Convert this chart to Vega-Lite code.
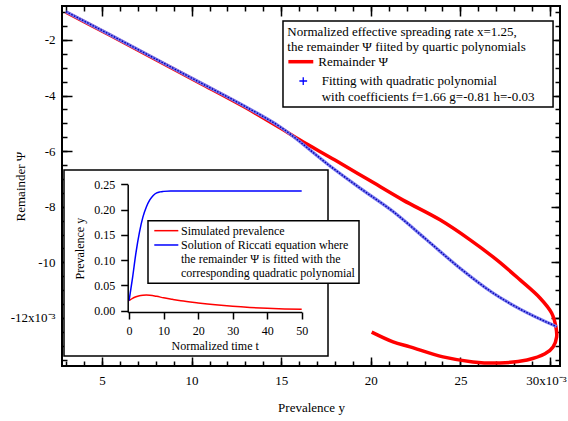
{
  "$schema": "https://vega.github.io/schema/vega-lite/v6.json",
  "width": 498,
  "height": 360,
  "autosize": {"type": "none"},
  "padding": {"left": 62, "top": 6, "right": 8, "bottom": 55},
  "background": "white",
  "config": {
    "font": "Liberation Serif",
    "view": {"stroke": "black", "strokeWidth": 2},
    "axis": {"grid": false, "labelColor": "black", "titleColor": "black", "tickColor": "black", "domainColor": "black", "labelFont": "Liberation Serif", "titleFont": "Liberation Serif", "titleFontWeight": "normal", "labelFlush": false, "labelOverlap": false}
  },
  "datasets": {
    "remainder": [
      {"order": 1, "prevalence": 0.02005, "remainder": -0.01251},
      {"order": 2, "prevalence": 0.02124, "remainder": -0.01286},
      {"order": 3, "prevalence": 0.02219, "remainder": -0.01304},
      {"order": 4, "prevalence": 0.02403, "remainder": -0.01340},
      {"order": 5, "prevalence": 0.02570, "remainder": -0.01358},
      {"order": 6, "prevalence": 0.02721, "remainder": -0.01362},
      {"order": 7, "prevalence": 0.02872, "remainder": -0.01351},
      {"order": 8, "prevalence": 0.02972, "remainder": -0.01329},
      {"order": 9, "prevalence": 0.03017, "remainder": -0.01304},
      {"order": 10, "prevalence": 0.03037, "remainder": -0.01268},
      {"order": 11, "prevalence": 0.03033, "remainder": -0.01232},
      {"order": 12, "prevalence": 0.03009, "remainder": -0.01182},
      {"order": 13, "prevalence": 0.02944, "remainder": -0.01128},
      {"order": 14, "prevalence": 0.02833, "remainder": -0.01063},
      {"order": 15, "prevalence": 0.02703, "remainder": -0.00991},
      {"order": 16, "prevalence": 0.02554, "remainder": -0.00919},
      {"order": 17, "prevalence": 0.02386, "remainder": -0.00847},
      {"order": 18, "prevalence": 0.02180, "remainder": -0.00776},
      {"order": 19, "prevalence": 0.01990, "remainder": -0.00704},
      {"order": 20, "prevalence": 0.01800, "remainder": -0.00632},
      {"order": 21, "prevalence": 0.01605, "remainder": -0.00560},
      {"order": 22, "prevalence": 0.01493, "remainder": -0.00516},
      {"order": 23, "prevalence": 0.01298, "remainder": -0.00442},
      {"order": 24, "prevalence": 0.01047, "remainder": -0.00355},
      {"order": 25, "prevalence": 0.00796, "remainder": -0.00269},
      {"order": 26, "prevalence": 0.00545, "remainder": -0.00183},
      {"order": 27, "prevalence": 0.00299, "remainder": -0.00100}
    ],
    "fit": [
      {"prevalence": 0.00299, "remainder": -0.00098},
      {"prevalence": 0.00545, "remainder": -0.00181},
      {"prevalence": 0.00796, "remainder": -0.00267},
      {"prevalence": 0.01047, "remainder": -0.00353},
      {"prevalence": 0.01298, "remainder": -0.00439},
      {"prevalence": 0.01493, "remainder": -0.00512},
      {"prevalence": 0.01772, "remainder": -0.00653},
      {"prevalence": 0.01940, "remainder": -0.00733},
      {"prevalence": 0.02126, "remainder": -0.00818},
      {"prevalence": 0.02312, "remainder": -0.00919},
      {"prevalence": 0.02498, "remainder": -0.01021},
      {"prevalence": 0.02684, "remainder": -0.01111},
      {"prevalence": 0.02833, "remainder": -0.01168},
      {"prevalence": 0.03037, "remainder": -0.01231}
    ],
    "inset": [
      {"series": "sim", "t": 0, "y": 0.020},
      {"series": "sim", "t": 1, "y": 0.0245},
      {"series": "sim", "t": 2, "y": 0.0275},
      {"series": "sim", "t": 3, "y": 0.0295},
      {"series": "sim", "t": 4, "y": 0.0305},
      {"series": "sim", "t": 5, "y": 0.031},
      {"series": "sim", "t": 6, "y": 0.0307},
      {"series": "sim", "t": 8, "y": 0.0285},
      {"series": "sim", "t": 10, "y": 0.0255},
      {"series": "sim", "t": 12.5, "y": 0.0225},
      {"series": "sim", "t": 15, "y": 0.0197},
      {"series": "sim", "t": 20, "y": 0.0155},
      {"series": "sim", "t": 25, "y": 0.0118},
      {"series": "sim", "t": 30, "y": 0.0088},
      {"series": "sim", "t": 35, "y": 0.0065},
      {"series": "sim", "t": 40, "y": 0.0048},
      {"series": "sim", "t": 45, "y": 0.0036},
      {"series": "sim", "t": 50, "y": 0.0027},
      {"series": "ric", "t": 0, "y": 0.020},
      {"series": "ric", "t": 1, "y": 0.065},
      {"series": "ric", "t": 2, "y": 0.115},
      {"series": "ric", "t": 3, "y": 0.155},
      {"series": "ric", "t": 4, "y": 0.185},
      {"series": "ric", "t": 5, "y": 0.205},
      {"series": "ric", "t": 6, "y": 0.219},
      {"series": "ric", "t": 7, "y": 0.228},
      {"series": "ric", "t": 8, "y": 0.233},
      {"series": "ric", "t": 9, "y": 0.235},
      {"series": "ric", "t": 10, "y": 0.236},
      {"series": "ric", "t": 12, "y": 0.237},
      {"series": "ric", "t": 20, "y": 0.237},
      {"series": "ric", "t": 30, "y": 0.237},
      {"series": "ric", "t": 40, "y": 0.237},
      {"series": "ric", "t": 50, "y": 0.237}
    ]
  },
  "layer": [
    {
      "layer": [
        {
          "data": {"name": "remainder"},
          "mark": {"type": "line", "color": "#ff0000", "strokeWidth": 3.5, "interpolate": "catmull-rom"},
          "encoding": {
            "x": {"field": "prevalence", "type": "quantitative", "scale": {"domain": [0.002768, 0.030558], "nice": false, "zero": false},
              "axis": {"orient": "bottom", "values": [0.005, 0.01, 0.015, 0.02, 0.025, 0.03], "labelExpr": "datum.value > 0.0295 ? '30x10⁻³' : toString(round(datum.value*1000))", "labelOffset": {"condition": {"test": "datum.value > 0.0295", "value": -4}, "value": 0}, "ticks": false, "domain": false, "labelFontSize": 13, "labelPadding": 8, "title": "Prevalence y", "titleFontSize": 13, "titlePadding": 14}},
            "y": {"field": "remainder", "type": "quantitative", "scale": {"domain": [-0.013727, -0.000777], "nice": false, "zero": false},
              "axis": {"orient": "left", "values": [-0.002, -0.004, -0.006, -0.008, -0.01, -0.012], "labelExpr": "datum.value < -0.0115 ? '-12x10⁻³' : toString(round(datum.value*1000))", "ticks": false, "domain": false, "labelFontSize": 13, "labelPadding": 7, "title": "Remainder Ψ", "titleFontSize": 13, "titlePadding": -17}},
            "order": {"field": "order", "type": "quantitative"}
          }
        },
        {
          "data": {"name": "fit"},
          "mark": {"type": "line", "color": "#7a7af0", "strokeWidth": 3.2, "interpolate": "monotone"},
          "encoding": {
            "x": {"field": "prevalence", "type": "quantitative", "scale": {"domain": [0.002768, 0.030558], "nice": false, "zero": false},
              "axis": {"orient": "bottom", "values": [0.005, 0.01, 0.015, 0.02, 0.025, 0.03], "labels": false, "domain": false, "tickSize": 9, "tickWidth": 1.5, "offset": -9, "title": null}},
            "y": {"field": "remainder", "type": "quantitative", "scale": {"domain": [-0.013727, -0.000777], "nice": false, "zero": false},
              "axis": {"orient": "left", "values": [-0.002, -0.004, -0.006, -0.008, -0.01, -0.012], "labels": false, "domain": false, "tickSize": 10, "tickWidth": 1.5, "offset": -10, "title": null}}
          }
        },
        {
          "data": {"name": "fit"},
          "mark": {"type": "line", "color": "#0000b0", "strokeWidth": 1.4, "strokeDash": [1.5, 1.5], "interpolate": "monotone"},
          "encoding": {
            "x": {"field": "prevalence", "type": "quantitative", "scale": {"domain": [0.002768, 0.030558], "nice": false, "zero": false}, "axis": null},
            "y": {"field": "remainder", "type": "quantitative", "scale": {"domain": [-0.013727, -0.000777], "nice": false, "zero": false}, "axis": null}
          }
        },
        {
          "data": {"name": "remainder"},
          "mark": {"type": "point", "opacity": 0},
          "encoding": {
            "x": {"field": "prevalence", "type": "quantitative", "scale": {"domain": [0.002768, 0.030558], "nice": false, "zero": false},
              "axis": {"orient": "bottom", "values": [0.003, 0.004, 0.005, 0.006, 0.007, 0.008, 0.009, 0.01, 0.011, 0.012, 0.013, 0.014, 0.015, 0.016, 0.017, 0.018, 0.019, 0.02, 0.021, 0.022, 0.023, 0.024, 0.025, 0.026, 0.027, 0.028, 0.029, 0.03], "labels": false, "domain": false, "tickSize": 5, "tickWidth": 1.5, "offset": -5, "title": null}},
            "y": {"field": "remainder", "type": "quantitative", "scale": {"domain": [-0.013727, -0.000777], "nice": false, "zero": false},
              "axis": {"orient": "left", "values": [-0.001, -0.0015, -0.002, -0.0025, -0.003, -0.0035, -0.004, -0.0045, -0.005, -0.0055, -0.006, -0.0065, -0.007, -0.0075, -0.008, -0.0085, -0.009, -0.0095, -0.01, -0.0105, -0.011, -0.0115, -0.012, -0.0125, -0.013, -0.0135], "labels": false, "domain": false, "tickSize": 5, "tickWidth": 1.5, "offset": -5, "title": null}}
          }
        },
        {
          "data": {"name": "remainder"},
          "mark": {"type": "point", "opacity": 0},
          "encoding": {
            "x": {"field": "prevalence", "type": "quantitative", "scale": {"domain": [0.002768, 0.030558], "nice": false, "zero": false},
              "axis": {"orient": "top", "values": [0.005, 0.01, 0.015, 0.02, 0.025, 0.03], "labels": false, "domain": false, "tickSize": 10, "tickWidth": 1.5, "offset": -10, "title": null}},
            "y": {"field": "remainder", "type": "quantitative", "scale": {"domain": [-0.013727, -0.000777], "nice": false, "zero": false},
              "axis": {"orient": "right", "values": [-0.002, -0.004, -0.006, -0.008, -0.01, -0.012], "labels": false, "domain": false, "tickSize": 9, "tickWidth": 1.5, "offset": -9, "title": null}}
          }
        },
        {
          "data": {"name": "remainder"},
          "mark": {"type": "point", "opacity": 0},
          "encoding": {
            "x": {"field": "prevalence", "type": "quantitative", "scale": {"domain": [0.002768, 0.030558], "nice": false, "zero": false},
              "axis": {"orient": "top", "values": [0.003, 0.004, 0.005, 0.006, 0.007, 0.008, 0.009, 0.01, 0.011, 0.012, 0.013, 0.014, 0.015, 0.016, 0.017, 0.018, 0.019, 0.02, 0.021, 0.022, 0.023, 0.024, 0.025, 0.026, 0.027, 0.028, 0.029, 0.03], "labels": false, "domain": false, "tickSize": 5, "tickWidth": 1.5, "offset": -5, "title": null}},
            "y": {"field": "remainder", "type": "quantitative", "scale": {"domain": [-0.013727, -0.000777], "nice": false, "zero": false},
              "axis": {"orient": "right", "values": [-0.001, -0.0015, -0.002, -0.0025, -0.003, -0.0035, -0.004, -0.0045, -0.005, -0.0055, -0.006, -0.0065, -0.007, -0.0075, -0.008, -0.0085, -0.009, -0.0095, -0.01, -0.0105, -0.011, -0.0115, -0.012, -0.0125, -0.013, -0.0135], "labels": false, "domain": false, "tickSize": 5, "tickWidth": 1.5, "offset": -5, "title": null}}
          }
        },
        {
          "data": {"values": [{}]},
          "mark": {"type": "rect", "fill": "white", "stroke": "black", "strokeWidth": 1.5},
          "encoding": {
            "x": {"datum": 0.01510, "type": "quantitative", "axis": null},
            "x2": {"datum": 0.03017},
            "y": {"datum": -0.001317, "type": "quantitative", "axis": null},
            "y2": {"datum": -0.00441}
          }
        },
        {
          "data": {"values": [{}]},
          "mark": {"type": "text", "align": "left", "baseline": "middle", "fontSize": 13, "font": "Liberation Serif", "color": "black", "text": "Normalized effective spreading rate x=1.25,"},
          "encoding": {
            "x": {"datum": 0.01534, "type": "quantitative", "axis": null},
            "y": {"datum": -0.001723, "type": "quantitative", "axis": null}
          }
        },
        {
          "data": {"values": [{}]},
          "mark": {"type": "text", "align": "left", "baseline": "middle", "fontSize": 13, "font": "Liberation Serif", "color": "black", "text": "the remainder Ψ fiited by quartic polynomials"},
          "encoding": {
            "x": {"datum": 0.01534, "type": "quantitative", "axis": null},
            "y": {"datum": -0.002241, "type": "quantitative", "axis": null}
          }
        },
        {
          "data": {"values": [{}]},
          "mark": {"type": "rule", "color": "#ff0000", "strokeWidth": 3.5},
          "encoding": {
            "x": {"datum": 0.01540, "type": "quantitative", "axis": null},
            "x2": {"datum": 0.01679},
            "y": {"datum": -0.002781, "type": "quantitative", "axis": null}
          }
        },
        {
          "data": {"values": [{}]},
          "mark": {"type": "text", "align": "left", "baseline": "middle", "fontSize": 13, "font": "Liberation Serif", "color": "black", "text": "Remainder Ψ"},
          "encoding": {
            "x": {"datum": 0.01707, "type": "quantitative", "axis": null},
            "y": {"datum": -0.002781, "type": "quantitative", "axis": null}
          }
        },
        {
          "data": {"values": [{}]},
          "mark": {"type": "point", "shape": "M-1,0L1,0M0,-1L0,1", "filled": false, "stroke": "#0000ff", "strokeWidth": 1.3, "size": 60, "opacity": 1},
          "encoding": {
            "x": {"datum": 0.01623, "type": "quantitative", "axis": null},
            "y": {"datum": -0.003475, "type": "quantitative", "axis": null}
          }
        },
        {
          "data": {"values": [{}]},
          "mark": {"type": "text", "align": "left", "baseline": "middle", "fontSize": 13, "font": "Liberation Serif", "color": "black", "text": "Fitting with quadratic polynomial"},
          "encoding": {
            "x": {"datum": 0.01726, "type": "quantitative", "axis": null},
            "y": {"datum": -0.003475, "type": "quantitative", "axis": null}
          }
        },
        {
          "data": {"values": [{}]},
          "mark": {"type": "text", "align": "left", "baseline": "middle", "fontSize": 13, "font": "Liberation Serif", "color": "black", "text": "with coefficients f=1.66 g=-0.81 h=-0.03"},
          "encoding": {
            "x": {"datum": 0.01726, "type": "quantitative", "axis": null},
            "y": {"datum": -0.00404, "type": "quantitative", "axis": null}
          }
        }
      ],
      "resolve": {"axis": {"x": "independent", "y": "independent"}}
    },
    {
      "layer": [
        {
          "data": {"values": [{}]},
          "mark": {"type": "rect", "fill": "white", "stroke": "black", "strokeWidth": 1.5},
          "encoding": {
            "x": {"datum": -18.85, "type": "quantitative", "scale": {"domain": [-0.4, 50], "range": [65.7, 239.7], "nice": false, "zero": false}, "axis": null},
            "x2": {"datum": 57.62},
            "y": {"datum": 0.2783, "type": "quantitative", "scale": {"domain": [-0.0025, 0.25], "range": [306, 178.3], "nice": false, "zero": false}, "axis": null},
            "y2": {"datum": -0.0895}
          }
        },
        {
          "data": {"name": "inset"},
          "mark": {"type": "line", "strokeWidth": 1.5, "interpolate": "monotone"},
          "encoding": {
            "x": {"field": "t", "type": "quantitative", "scale": {"domain": [-0.4, 50], "range": [65.7, 239.7], "nice": false, "zero": false},
              "axis": {"orient": "bottom", "offset": -54, "values": [0, 10, 20, 30, 40, 50], "title": "Normalized time t", "titleFontSize": 12, "labelFontSize": 12, "tickSize": 7, "tickWidth": 1.5, "domainWidth": 1.5, "labelPadding": 6, "titlePadding": 4, "zindex": 1}},
            "y": {"field": "y", "type": "quantitative", "scale": {"domain": [-0.0025, 0.25], "range": [306, 178.3], "nice": false, "zero": false},
              "axis": {"orient": "left", "offset": -65.7, "values": [0, 0.05, 0.1, 0.15, 0.2, 0.25], "format": ".2f", "title": "Prevalence y", "titleFontSize": 12, "labelFontSize": 12, "tickSize": 7, "tickWidth": 1.5, "domainWidth": 1.5, "labelPadding": 6, "titlePadding": 7, "zindex": 1}},
            "color": {"field": "series", "type": "nominal", "scale": {"domain": ["sim", "ric"], "range": ["#ff0000", "#0000ff"]}, "legend": null}
          }
        },
        {
          "data": {"values": [{}]},
          "mark": {"type": "rect", "fill": "white", "stroke": "black", "strokeWidth": 1.5},
          "encoding": {
            "x": {"datum": 5.48, "type": "quantitative", "axis": null},
            "x2": {"datum": 66.6},
            "y": {"datum": 0.178, "type": "quantitative", "axis": null},
            "y2": {"datum": 0.0543}
          }
        },
        {
          "data": {"values": [{}]},
          "mark": {"type": "rule", "color": "#ff0000", "strokeWidth": 1.5},
          "encoding": {
            "x": {"datum": 7.3, "type": "quantitative", "axis": null},
            "x2": {"datum": 14.26},
            "y": {"datum": 0.1583, "type": "quantitative", "axis": null}
          }
        },
        {
          "data": {"values": [{}]},
          "mark": {"type": "rule", "color": "#0000ff", "strokeWidth": 1.5},
          "encoding": {
            "x": {"datum": 7.3, "type": "quantitative", "axis": null},
            "x2": {"datum": 14.26},
            "y": {"datum": 0.1300, "type": "quantitative", "axis": null}
          }
        },
        {
          "data": {"values": [{}]},
          "mark": {"type": "text", "align": "left", "baseline": "middle", "fontSize": 12, "font": "Liberation Serif", "color": "black", "text": "Simulated prevalence"},
          "encoding": {
            "x": {"datum": 15.04, "type": "quantitative", "axis": null},
            "y": {"datum": 0.1583, "type": "quantitative", "axis": null}
          }
        },
        {
          "data": {"values": [{}]},
          "mark": {"type": "text", "align": "left", "baseline": "middle", "fontSize": 12, "font": "Liberation Serif", "color": "black", "text": "Solution of Riccati equation where"},
          "encoding": {
            "x": {"datum": 15.04, "type": "quantitative", "axis": null},
            "y": {"datum": 0.1300, "type": "quantitative", "axis": null}
          }
        },
        {
          "data": {"values": [{}]},
          "mark": {"type": "text", "align": "left", "baseline": "middle", "fontSize": 12, "font": "Liberation Serif", "color": "black", "text": "the remainder Ψ is fitted with the"},
          "encoding": {
            "x": {"datum": 15.04, "type": "quantitative", "axis": null},
            "y": {"datum": 0.1023, "type": "quantitative", "axis": null}
          }
        },
        {
          "data": {"values": [{}]},
          "mark": {"type": "text", "align": "left", "baseline": "middle", "fontSize": 12, "font": "Liberation Serif", "color": "black", "text": "corresponding quadratic polynomial"},
          "encoding": {
            "x": {"datum": 15.04, "type": "quantitative", "axis": null},
            "y": {"datum": 0.0752, "type": "quantitative", "axis": null}
          }
        }
      ],
      "resolve": {"axis": {"x": "independent", "y": "independent"}}
    }
  ],
  "resolve": {"scale": {"x": "independent", "y": "independent"}}
}
